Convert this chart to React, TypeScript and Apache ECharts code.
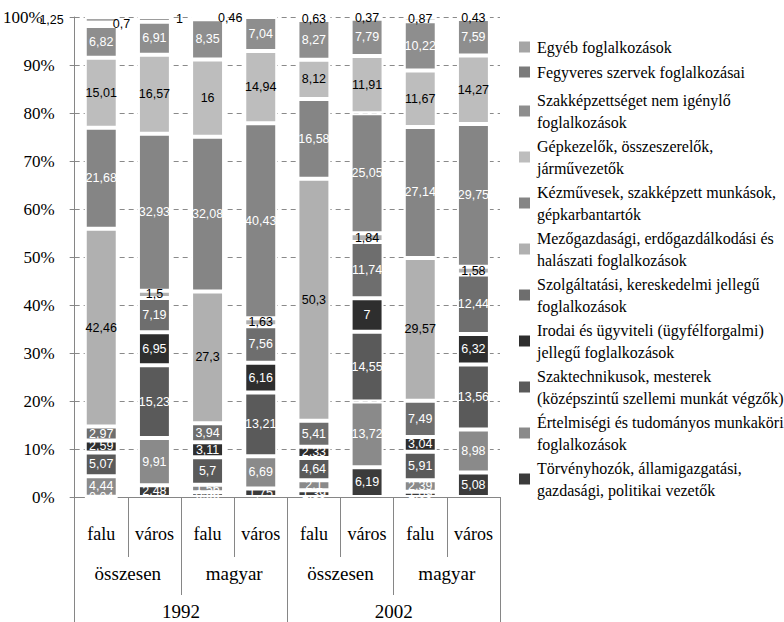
import React, { useEffect, useRef } from 'react';
import * as echarts from 'echarts';

const level1 = ['falu', 'város', 'falu', 'város', 'falu', 'város', 'falu', 'város'];
const level2 = ['összesen', 'magyar', 'összesen', 'magyar'];
const level3 = ['1992', '2002'];
const yTicks = [0, 10, 20, 30, 40, 50, 60, 70, 80, 90, 100];

// bottom -> top
const torvenyhozok = [0.04, 2.48, 0.96, 1.75, 1.39, 6.19, 1.09, 5.08];
const ertelmisegi = [4.44, 9.91, 1.56, 6.69, 2.1, 13.72, 2.39, 8.98];
const szaktechnikusok = [5.07, 15.23, 5.7, 13.21, 4.64, 14.55, 5.91, 13.56];
const irodai = [2.59, 6.95, 3.11, 6.16, 2.33, 7, 3.04, 6.32];
const szolgaltatasi = [2.97, 7.19, 3.94, 7.56, 5.41, 11.74, 7.49, 12.44];
const mezogazdasagi = [42.46, 1.5, 27.3, 1.63, 50.3, 1.84, 29.57, 1.58];
const kezmuvesek = [21.68, 32.93, 32.08, 40.43, 16.58, 25.05, 27.14, 29.75];
const gepkezelok = [15.01, 16.57, 16, 14.94, 8.12, 11.91, 11.67, 14.27];
const szakkepzetlen = [6.82, 6.91, 8.35, 7.04, 8.27, 7.79, 10.22, 7.59];
const fegyveres = [0.7, 1, 0.46, null, 0.63, 0.37, 0.87, 0.43];
const egyeb = [1.25, null, null, null, null, null, null, null];

const seriesDefs = [
  { name: 'Törvényhozók, államigazgatási,\ngazdasági, politikai vezetők', data: torvenyhozok, color: '#3b3b3b', text: '#ffffff' },
  { name: 'Értelmiségi és tudományos munkaköri\nfoglalkozások', data: ertelmisegi, color: '#8a8a8a', text: '#ffffff' },
  { name: 'Szaktechnikusok, mesterek\n(középszintű szellemi munkát végzők)', data: szaktechnikusok, color: '#5a5a5a', text: '#ffffff' },
  { name: 'Irodai és ügyviteli (ügyfélforgalmi)\njellegű foglalkozások', data: irodai, color: '#2e2e2e', text: '#ffffff' },
  { name: 'Szolgáltatási, kereskedelmi jellegű\nfoglalkozások', data: szolgaltatasi, color: '#6e6e6e', text: '#ffffff' },
  { name: 'Mezőgazdasági, erdőgazdálkodási és\nhalászati foglalkozások', data: mezogazdasagi, color: '#b0b0b0', text: '#000000' },
  { name: 'Kézművesek, szakképzett munkások,\ngépkarbantartók', data: kezmuvesek, color: '#858585', text: '#ffffff' },
  { name: 'Gépkezelők, összeszerelők,\njárművezetők', data: gepkezelok, color: '#bdbdbd', text: '#000000' },
  { name: 'Szakképzettséget nem igénylő\nfoglalkozások', data: szakkepzetlen, color: '#8e8e8e', text: '#ffffff' },
  { name: 'Fegyveres szervek foglalkozásai', data: fegyveres, color: '#7b7b7b', text: '#000000' },
  { name: 'Egyéb foglalkozások', data: egyeb, color: '#a5a5a5', text: '#000000' },
];

const totals = level1.map((_, i) =>
  seriesDefs.reduce((s, d) => s + (d.data[i] == null ? 0 : (d.data[i] as number)), 0)
);

const fmt = (v: number) => String(v).replace('.', ',');

const serif = 'Liberation Serif';
const sans = 'Liberation Sans';

export default function App() {
  const ref = useRef<HTMLDivElement>(null);
  useEffect(() => {
    if (!ref.current) return;
    const chart = echarts.init(ref.current, null, { renderer: 'svg' });

    const series = seriesDefs.map((d, si) => ({
      type: 'bar',
      name: d.name,
      stack: 'total',
      barWidth: '62%',
      itemStyle: { color: d.color, borderColor: '#ffffff', borderWidth: 2 },
      label: {
        show: true,
        position: 'inside',
        color: d.text,
        fontFamily: sans,
        fontSize: 12.5,
        formatter: (p: any) => fmt(d.data[p.dataIndex] as number),
      },
      data: d.data.map((v, i) => {
        if (v == null) return null;
        const item: any = { value: (v / totals[i]) * 100 };
        if (si === 10 && i === 0) item.label = { position: 'left', distance: 21 };
        if (si === 9 && i === 0) item.label = { position: 'right', distance: -5 };
        if (si === 9 && i === 1) item.label = { position: 'right', distance: 5 };
        if (si === 9 && i === 2) item.label = { position: 'right', distance: -6 };
        return item;
      }),
    }));

    const legendNames = seriesDefs.map((d) => d.name).reverse();
    const legendText = { fontFamily: serif, fontSize: 16, color: '#000', lineHeight: 22, padding: [0, 0, 0, 1] };

    chart.setOption({
      animation: false,
      textStyle: { fontFamily: serif },
      grid: { left: 72, right: 284, top: 17, bottom: 125, containLabel: false },
      legend: [
        {
          orient: 'vertical',
          left: 512,
          top: 31,
          itemWidth: 13,
          itemHeight: 13,
          itemGap: 3,
          icon: 'rect',
          data: legendNames.slice(0, 2),
          textStyle: legendText,
        },
        {
          orient: 'vertical',
          left: 512,
          top: 84,
          itemWidth: 13,
          itemHeight: 13,
          itemGap: 2,
          icon: 'rect',
          data: legendNames.slice(2),
          textStyle: legendText,
        },
      ],
      xAxis: [
        {
          type: 'category',
          data: level1,
          position: 'bottom',
          axisLine: { show: true, lineStyle: { color: '#868686', width: 1 } },
          axisTick: { show: true, interval: 0, length: 60, lineStyle: { color: '#868686' } },
          axisLabel: { interval: 0, margin: 28, fontFamily: serif, fontSize: 18, color: '#000' },
        },
        {
          type: 'category',
          data: level2,
          position: 'bottom',
          offset: 60,
          axisLine: { show: false },
          axisTick: { show: true, interval: 0, length: 38, lineStyle: { color: '#868686' } },
          axisLabel: { interval: 0, margin: 7, fontFamily: serif, fontSize: 19, color: '#000' },
        },
        {
          type: 'category',
          data: level3,
          position: 'bottom',
          offset: 98,
          axisLine: { show: false },
          axisTick: { show: true, interval: 0, length: 27, lineStyle: { color: '#868686' } },
          axisLabel: { interval: 0, margin: 7, fontFamily: serif, fontSize: 19, color: '#000' },
        },
      ],
      yAxis: {
        type: 'value',
        min: yTicks[0],
        max: yTicks[yTicks.length - 1],
        interval: 10,
        axisLine: { show: true, lineStyle: { color: '#868686', width: 1 } },
        axisTick: { show: true, length: 5, lineStyle: { color: '#868686' } },
        axisLabel: {
          margin: 20,
          fontFamily: serif,
          fontSize: 17,
          color: '#000',
          formatter: (v: number) => (v === 100 ? '{top|' + v + '%}' : v + '%'),
          rich: { top: { fontFamily: serif, fontSize: 17, color: '#000', padding: [0, 12, 0, 0] } },
        },
        splitLine: { show: true, lineStyle: { color: '#8a8a8a', type: [5, 4], width: 1 } },
      },
      series,
    });
    return () => chart.dispose();
  }, []);
  return <div ref={ref} style={{ position: 'absolute', left: 0, top: 0, width: 784, height: 622 }} />;
}
